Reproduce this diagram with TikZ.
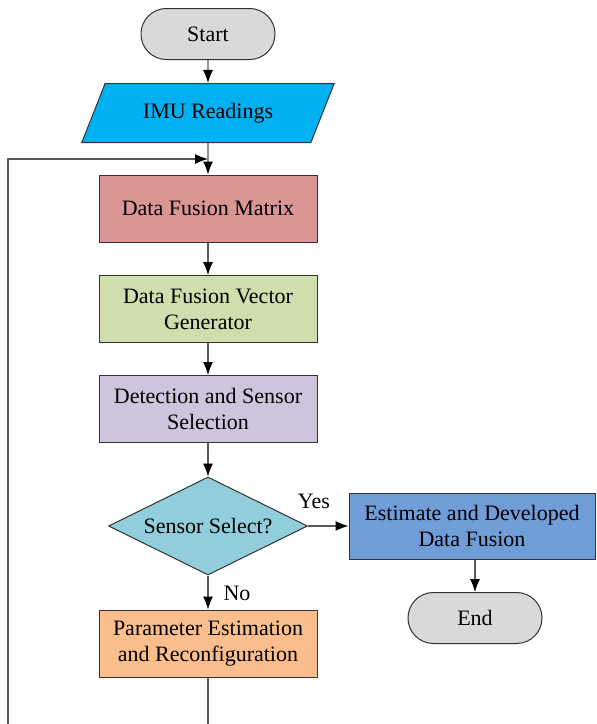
\documentclass[tikz,border=0pt]{standalone}
\usepackage{fontspec}
\setmainfont{Liberation Serif}
\usetikzlibrary{shapes.geometric,arrows.meta}
\definecolor{termgray}{RGB}{217,217,217}
\definecolor{imublue}{RGB}{0,176,240}
\definecolor{matrixred}{RGB}{217,150,148}
\definecolor{vectorgreen}{RGB}{206,222,172}
\definecolor{detectlilac}{RGB}{206,196,220}
\definecolor{selectcyan}{RGB}{146,205,220}
\definecolor{estimblue}{RGB}{112,157,216}
\definecolor{paramorange}{RGB}{250,190,140}
\tikzset{
  txt/.style={font=\fontsize{11}{13}\selectfont,align=center},
  term/.style={txt,draw=black!80,line width=0.5pt,rectangle,rounded corners=12.7pt,minimum width=67pt,minimum height=25.5pt,fill=termgray},
  box/.style={txt,draw=black!80,line width=0.5pt,rectangle,minimum width=109pt,minimum height=33.5pt},
  flow/.style={draw=black!65,line width=0.6pt,-{Latex[length=6.5pt,width=5pt,black]}},
  wire/.style={draw=black!65,line width=0.6pt}
}
\begin{document}
\begin{tikzpicture}[x=0.5pt,y=-0.5pt]
\useasboundingbox (0,0) rectangle (596,724);
%\fill[white] (0,0) rectangle (596,724);
\path (208,34) node[term] (start) {Start};
\path (208,113) node[txt,draw=black!80,line width=0.5pt,fill=imublue,trapezium,trapezium left angle=64,trapezium right angle=116,minimum width=127pt,minimum height=29.5pt,trapezium stretches=true] (imu) {IMU Readings};
\path (208,208.5) node[box,fill=matrixred] (matrix) {Data Fusion Matrix};
\path (208,309) node[box,fill=vectorgreen] (vector) {Data Fusion Vector\\Generator};
\path (208,409) node[box,fill=detectlilac] (detect) {Detection and Sensor\\Selection};
\path (208,526) node[txt,draw=black!80,line width=0.5pt,fill=selectcyan,diamond,aspect=2.03,minimum width=99.5pt,minimum height=49pt,inner sep=0pt] (select) {Sensor Select?};
\path (472,526) node[box,fill=estimblue,minimum width=123pt,minimum height=33pt] (estim) {Estimate and Developed\\Data Fusion};
\path (475,618) node[term] (end) {End};
\path (208,643.5) node[box,fill=paramorange] (param) {Parameter Estimation\\and Reconfiguration};
\path (314,501) node[txt] (yes) {Yes};
\path (237,593) node[txt] (no) {No};
\coordinate (loopin) at (208,159);
\coordinate (loopbot) at (8,724);
\coordinate (parambot) at (208,724);
\draw[flow] (start) -- (imu);
\draw[flow] (imu) -- (matrix);
\draw[flow] (matrix) -- (vector);
\draw[flow] (vector) -- (detect);
\draw[flow] (detect) -- (select);
\draw[flow] (select) -- (estim);
\draw[flow] (estim.south -| end) -- (end);
\draw[flow] (select) -- (param);
\draw[wire] (param) -- (parambot);
\draw[flow] (loopbot) |- (loopin);
\end{tikzpicture}
\end{document}
